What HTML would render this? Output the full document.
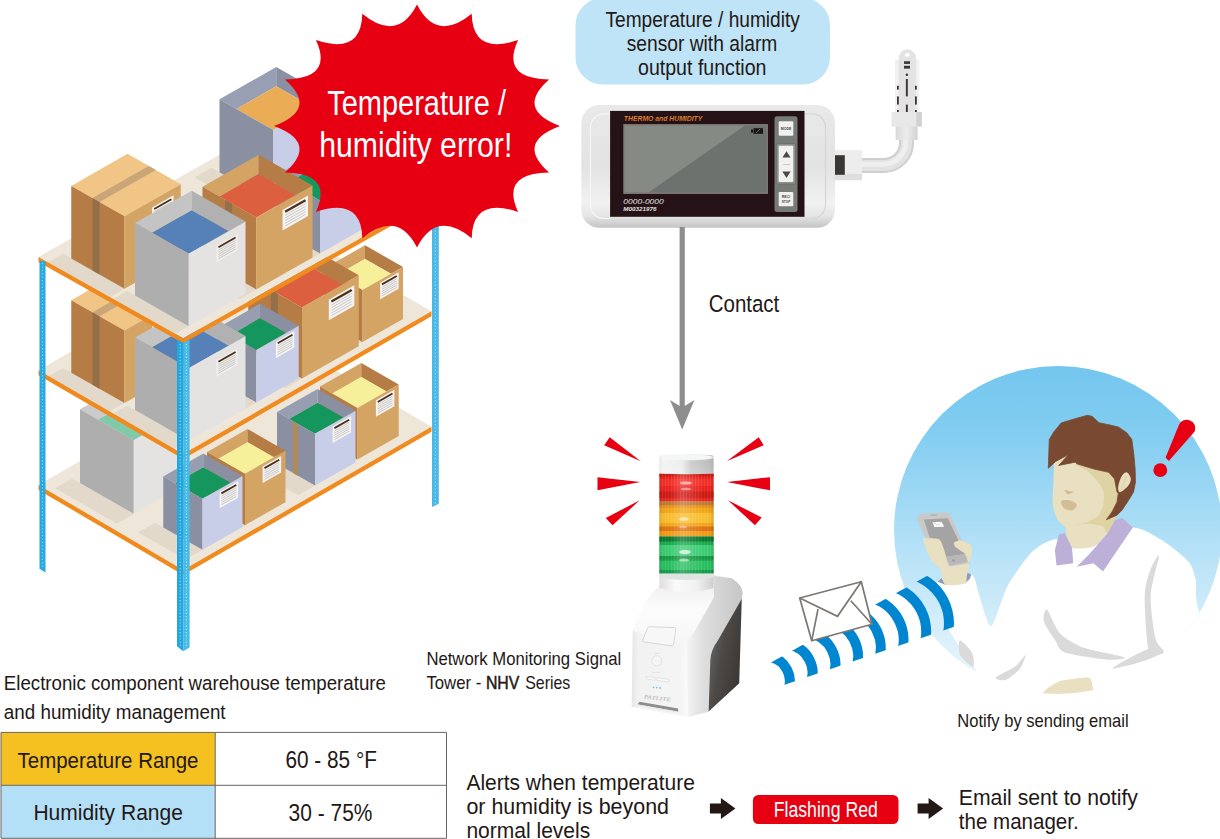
<!DOCTYPE html>
<html lang="en"><head><meta charset="utf-8"><title>Temperature / humidity monitoring</title>
<style>
html,body{margin:0;padding:0;background:#fff;}
body{width:1220px;height:839px;overflow:hidden;}
svg{display:block;font-family:"Liberation Sans",sans-serif;}
</style></head><body>
<svg width="1220" height="839" viewBox="0 0 1220 839">
<g id="shelf"><polygon points="432.00,150.00 438.80,150.00 438.80,503.70 432.00,507.00" fill="#4bb8e6" /><line x1="435.4" y1="152.0" x2="435.4" y2="506.0" stroke="#9adcf5" stroke-width="1.2" stroke-dasharray="1.2 2.2"/><polygon points="38.50,484.92 286.80,341.65 431.50,426.73 183.20,570.00" fill="#efe6da" /><polygon points="357.50,459.50 340.50,469.19 295.00,443.25 312.00,433.56 320.00,438.12" fill="#e2d9cb" /><polygon points="315.00,485.50 298.00,495.19 252.00,468.97 269.00,459.28 277.00,463.84" fill="#e2d9cb" /><polygon points="133.75,513.75 116.75,523.44 55.00,488.24 72.00,478.55 80.00,483.11" fill="#e2d9cb" /><polygon points="245.00,525.25 228.00,534.94 182.00,508.72 199.00,499.03 207.00,503.59" fill="#e2d9cb" /><polygon points="202.50,549.75 185.50,559.44 138.25,532.51 155.25,522.82 163.25,527.38" fill="#e2d9cb" /><polygon points="38.50,484.92 183.20,570.00 183.20,575.00 38.50,489.92" fill="#f08a1c" /><polygon points="183.20,570.00 431.50,426.73 431.50,431.73 183.20,575.00" fill="#ef8b1f" /><polygon points="320.00,386.62 361.25,363.11 361.25,377.11 332.28,393.62" fill="#d4a465" /><polygon points="361.25,363.11 398.75,384.49 386.47,391.49 361.25,377.11" fill="#b57c45" /><polygon points="361.25,377.11 386.47,391.49 357.50,408.00 332.28,393.62" fill="#f7f09a" /><polygon points="320.00,386.62 357.50,408.00 357.50,459.50 320.00,438.12" fill="#b57c45" /><polygon points="357.50,408.00 398.75,384.49 398.75,435.99 357.50,459.50" fill="#d4a465" /><polygon points="375.85,400.34 394.35,389.80 394.35,406.30 375.85,416.84" fill="#f4f3f1" /><line x1="377.70" y1="401.93" x2="392.50" y2="393.49" stroke="#4a2f1a" stroke-width="1.815"/><line x1="377.70" y1="404.73" x2="392.50" y2="396.30" stroke="#b9b6b3" stroke-width="0.7"/><line x1="377.70" y1="406.88" x2="392.50" y2="398.44" stroke="#b9b6b3" stroke-width="0.7"/><line x1="377.70" y1="409.02" x2="392.50" y2="400.59" stroke="#b9b6b3" stroke-width="0.7"/><line x1="377.70" y1="411.17" x2="392.50" y2="402.73" stroke="#b9b6b3" stroke-width="0.7"/><line x1="377.70" y1="413.31" x2="392.50" y2="404.88" stroke="#b9b6b3" stroke-width="0.7"/><polygon points="277.00,412.09 317.50,389.00 317.50,402.75 289.06,418.97" fill="#989eb2" /><polygon points="317.50,389.00 355.50,410.67 343.44,417.54 317.50,402.75" fill="#8a90a2" /><polygon points="317.50,402.75 343.44,417.54 315.00,433.75 289.06,418.97" fill="#14965c" /><polygon points="277.00,412.09 315.00,433.75 315.00,485.50 277.00,463.84" fill="#8a90a2" /><polygon points="315.00,433.75 355.50,410.67 355.50,462.42 315.00,485.50" fill="#c8cde8" /><polygon points="292.96,421.19 297.90,424.00 297.90,475.75 292.96,472.94" fill="#b08a58" /><polygon points="332.60,426.52 351.10,415.97 351.10,432.47 332.60,443.02" fill="#f4f3f1" /><line x1="334.45" y1="428.10" x2="349.25" y2="419.67" stroke="#4a2f1a" stroke-width="1.815"/><line x1="334.45" y1="430.91" x2="349.25" y2="422.47" stroke="#b9b6b3" stroke-width="0.7"/><line x1="334.45" y1="433.05" x2="349.25" y2="424.62" stroke="#b9b6b3" stroke-width="0.7"/><line x1="334.45" y1="435.20" x2="349.25" y2="426.76" stroke="#b9b6b3" stroke-width="0.7"/><line x1="334.45" y1="437.34" x2="349.25" y2="428.91" stroke="#b9b6b3" stroke-width="0.7"/><line x1="334.45" y1="439.49" x2="349.25" y2="431.05" stroke="#b9b6b3" stroke-width="0.7"/><polygon points="80.00,409.36 136.00,377.44 189.75,408.08 133.75,440.00" fill="#cbcbcb" /><polygon points="80.00,409.36 133.75,440.00 133.75,513.75 80.00,483.11" fill="#aeaeae" /><polygon points="133.75,440.00 189.75,408.08 189.75,481.83 133.75,513.75" fill="#e4e3e1" /><polygon points="98.28,419.78 154.28,387.86 189.75,408.08 133.75,440.00" fill="#80c9a9" /><polygon points="207.00,452.09 247.50,429.00 247.50,442.25 218.62,458.72" fill="#d4a465" /><polygon points="247.50,429.00 285.50,450.67 273.88,457.29 247.50,442.25" fill="#b57c45" /><polygon points="247.50,442.25 273.88,457.29 245.00,473.75 218.62,458.72" fill="#f7f09a" /><polygon points="207.00,452.09 245.00,473.75 245.00,525.25 207.00,503.59" fill="#b57c45" /><polygon points="245.00,473.75 285.50,450.67 285.50,502.17 245.00,525.25" fill="#d4a465" /><polygon points="262.60,466.52 281.10,455.97 281.10,472.47 262.60,483.02" fill="#f4f3f1" /><line x1="264.45" y1="468.10" x2="279.25" y2="459.67" stroke="#4a2f1a" stroke-width="1.815"/><line x1="264.45" y1="470.91" x2="279.25" y2="462.47" stroke="#b9b6b3" stroke-width="0.7"/><line x1="264.45" y1="473.05" x2="279.25" y2="464.62" stroke="#b9b6b3" stroke-width="0.7"/><line x1="264.45" y1="475.20" x2="279.25" y2="466.76" stroke="#b9b6b3" stroke-width="0.7"/><line x1="264.45" y1="477.34" x2="279.25" y2="468.91" stroke="#b9b6b3" stroke-width="0.7"/><line x1="264.45" y1="479.49" x2="279.25" y2="471.05" stroke="#b9b6b3" stroke-width="0.7"/><polygon points="163.25,476.38 203.25,453.58 203.25,467.33 175.31,483.25" fill="#989eb2" /><polygon points="203.25,453.58 242.50,475.95 230.44,482.82 203.25,467.33" fill="#8a90a2" /><polygon points="203.25,467.33 230.44,482.82 202.50,498.75 175.31,483.25" fill="#14965c" /><polygon points="163.25,476.38 202.50,498.75 202.50,549.75 163.25,527.38" fill="#8a90a2" /><polygon points="202.50,498.75 242.50,475.95 242.50,526.95 202.50,549.75" fill="#c8cde8" /><polygon points="219.60,491.80 238.10,481.26 238.10,497.76 219.60,508.30" fill="#f4f3f1" /><line x1="221.45" y1="493.39" x2="236.25" y2="484.95" stroke="#4a2f1a" stroke-width="1.815"/><line x1="221.45" y1="496.19" x2="236.25" y2="487.76" stroke="#b9b6b3" stroke-width="0.7"/><line x1="221.45" y1="498.34" x2="236.25" y2="489.90" stroke="#b9b6b3" stroke-width="0.7"/><line x1="221.45" y1="500.48" x2="236.25" y2="492.05" stroke="#b9b6b3" stroke-width="0.7"/><line x1="221.45" y1="502.63" x2="236.25" y2="494.19" stroke="#b9b6b3" stroke-width="0.7"/><line x1="221.45" y1="504.77" x2="236.25" y2="496.34" stroke="#b9b6b3" stroke-width="0.7"/><polygon points="38.50,370.36 286.80,227.59 431.50,311.23 183.20,454.00" fill="#efe6da" /><polygon points="362.50,342.00 345.50,351.69 299.50,325.47 316.50,315.78 324.50,320.34" fill="#e2d9cb" /><polygon points="302.00,378.50 285.00,388.19 223.25,352.99 240.25,343.30 248.25,347.86" fill="#e2d9cb" /><polygon points="256.25,402.50 239.25,412.19 192.50,385.54 209.50,375.85 217.50,380.41" fill="#e2d9cb" /><polygon points="124.50,403.00 107.50,412.69 46.25,377.78 63.25,368.09 71.25,372.65" fill="#e2d9cb" /><polygon points="188.75,440.75 171.75,450.44 110.00,415.24 127.00,405.55 135.00,410.11" fill="#e2d9cb" /><polygon points="38.50,370.36 183.20,454.00 183.20,459.00 38.50,375.36" fill="#f08a1c" /><polygon points="183.20,454.00 431.50,311.23 431.50,316.23 183.20,459.00" fill="#ef8b1f" /><polygon points="324.50,268.34 365.00,245.25 365.00,259.00 336.56,275.22" fill="#d4a465" /><polygon points="365.00,245.25 403.00,266.92 390.94,273.79 365.00,259.00" fill="#b57c45" /><polygon points="365.00,259.00 390.94,273.79 362.50,290.00 336.56,275.22" fill="#f7f09a" /><polygon points="324.50,268.34 362.50,290.00 362.50,342.00 324.50,320.34" fill="#b57c45" /><polygon points="362.50,290.00 403.00,266.92 403.00,318.92 362.50,342.00" fill="#d4a465" /><polygon points="380.10,282.77 398.60,272.22 398.60,288.72 380.10,299.27" fill="#f4f3f1" /><line x1="381.95" y1="284.35" x2="396.75" y2="275.92" stroke="#4a2f1a" stroke-width="1.815"/><line x1="381.95" y1="287.16" x2="396.75" y2="278.72" stroke="#b9b6b3" stroke-width="0.7"/><line x1="381.95" y1="289.30" x2="396.75" y2="280.87" stroke="#b9b6b3" stroke-width="0.7"/><line x1="381.95" y1="291.45" x2="396.75" y2="283.01" stroke="#b9b6b3" stroke-width="0.7"/><line x1="381.95" y1="293.59" x2="396.75" y2="285.16" stroke="#b9b6b3" stroke-width="0.7"/><line x1="381.95" y1="295.74" x2="396.75" y2="287.30" stroke="#b9b6b3" stroke-width="0.7"/><polygon points="248.25,276.86 305.00,244.52 305.00,263.51 264.92,286.36" fill="#d4a465" /><polygon points="305.00,244.52 358.75,275.15 342.08,284.65 305.00,263.51" fill="#b57c45" /><polygon points="305.00,263.51 342.08,284.65 302.00,307.50 264.92,286.36" fill="#dc6040" /><polygon points="248.25,276.86 302.00,307.50 302.00,378.50 248.25,347.86" fill="#b57c45" /><polygon points="302.00,307.50 358.75,275.15 358.75,346.15 302.00,378.50" fill="#d4a465" /><polygon points="270.82,289.73 277.81,293.71 277.81,364.71 270.82,360.73" fill="#94704a" /><polygon points="328.80,299.72 354.30,285.19 354.30,305.69 328.80,320.22" fill="#f4f3f1" /><line x1="331.35" y1="301.55" x2="351.75" y2="289.92" stroke="#4a2f1a" stroke-width="2.255"/><line x1="331.35" y1="305.04" x2="351.75" y2="293.41" stroke="#b9b6b3" stroke-width="0.7"/><line x1="331.35" y1="307.70" x2="351.75" y2="296.07" stroke="#b9b6b3" stroke-width="0.7"/><line x1="331.35" y1="310.37" x2="351.75" y2="298.74" stroke="#b9b6b3" stroke-width="0.7"/><line x1="331.35" y1="313.03" x2="351.75" y2="301.40" stroke="#b9b6b3" stroke-width="0.7"/><line x1="331.35" y1="315.70" x2="351.75" y2="304.07" stroke="#b9b6b3" stroke-width="0.7"/><polygon points="217.50,327.91 260.00,303.69 260.00,318.19 230.22,335.16" fill="#989eb2" /><polygon points="260.00,303.69 298.75,325.77 286.03,333.02 260.00,318.19" fill="#8a90a2" /><polygon points="260.00,318.19 286.03,333.02 256.25,350.00 230.22,335.16" fill="#14965c" /><polygon points="217.50,327.91 256.25,350.00 256.25,402.50 217.50,380.41" fill="#8a90a2" /><polygon points="256.25,350.00 298.75,325.77 298.75,378.27 256.25,402.50" fill="#c8cde8" /><polygon points="275.85,341.63 294.35,331.08 294.35,347.58 275.85,358.13" fill="#f4f3f1" /><line x1="277.70" y1="343.21" x2="292.50" y2="334.78" stroke="#4a2f1a" stroke-width="1.815"/><line x1="277.70" y1="346.02" x2="292.50" y2="337.58" stroke="#b9b6b3" stroke-width="0.7"/><line x1="277.70" y1="348.16" x2="292.50" y2="339.73" stroke="#b9b6b3" stroke-width="0.7"/><line x1="277.70" y1="350.31" x2="292.50" y2="341.87" stroke="#b9b6b3" stroke-width="0.7"/><line x1="277.70" y1="352.45" x2="292.50" y2="344.02" stroke="#b9b6b3" stroke-width="0.7"/><line x1="277.70" y1="354.60" x2="292.50" y2="346.16" stroke="#b9b6b3" stroke-width="0.7"/><polygon points="71.25,300.15 127.50,268.09 180.75,298.44 124.50,330.50" fill="#f0c586" /><polygon points="71.25,300.15 124.50,330.50 124.50,403.00 71.25,372.65" fill="#b57c45" /><polygon points="124.50,330.50 180.75,298.44 180.75,370.94 124.50,403.00" fill="#d4a465" /><polygon points="92.55,312.29 148.80,280.23 155.72,284.17 99.47,316.23" fill="#c9a577" /><polygon points="92.55,312.29 99.47,316.23 99.47,388.73 92.55,384.79" fill="#94704a" /><polygon points="152.05,321.80 173.55,309.54 173.55,326.14 152.05,338.40" fill="#f4f3f1" /><line x1="154.20" y1="323.23" x2="171.40" y2="313.42" stroke="#4a2f1a" stroke-width="1.826"/><line x1="154.20" y1="326.05" x2="171.40" y2="316.25" stroke="#b9b6b3" stroke-width="0.7"/><line x1="154.20" y1="328.21" x2="171.40" y2="318.40" stroke="#b9b6b3" stroke-width="0.7"/><line x1="154.20" y1="330.36" x2="171.40" y2="320.56" stroke="#b9b6b3" stroke-width="0.7"/><line x1="154.20" y1="332.52" x2="171.40" y2="322.72" stroke="#b9b6b3" stroke-width="0.7"/><line x1="154.20" y1="334.68" x2="171.40" y2="324.88" stroke="#b9b6b3" stroke-width="0.7"/><polygon points="135.00,337.61 191.75,305.26 191.75,324.76 152.11,347.36" fill="#c4c4c4" /><polygon points="191.75,305.26 245.50,335.90 228.39,345.65 191.75,324.76" fill="#b1b1b1" /><polygon points="191.75,324.76 228.39,345.65 188.75,368.25 152.11,347.36" fill="#5580b8" /><polygon points="135.00,337.61 188.75,368.25 188.75,440.75 135.00,410.11" fill="#aeaeae" /><polygon points="188.75,368.25 245.50,335.90 245.50,408.40 188.75,440.75" fill="#e4e3e1" /><polygon points="216.30,360.35 237.70,348.15 237.70,364.75 216.30,376.95" fill="#efeeec" /><line x1="218.44" y1="361.78" x2="235.56" y2="352.02" stroke="#4a2f1a" stroke-width="1.826"/><line x1="218.44" y1="364.60" x2="235.56" y2="354.85" stroke="#b9b6b3" stroke-width="0.7"/><line x1="218.44" y1="366.76" x2="235.56" y2="357.00" stroke="#b9b6b3" stroke-width="0.7"/><line x1="218.44" y1="368.92" x2="235.56" y2="359.16" stroke="#b9b6b3" stroke-width="0.7"/><line x1="218.44" y1="371.08" x2="235.56" y2="361.32" stroke="#b9b6b3" stroke-width="0.7"/><line x1="218.44" y1="373.24" x2="235.56" y2="363.48" stroke="#b9b6b3" stroke-width="0.7"/><polygon points="38.50,256.88 286.80,116.84 431.50,198.16 183.20,338.20" fill="#efe6da" /><polygon points="273.25,203.00 256.25,212.69 194.50,177.49 211.50,167.80 219.50,172.36" fill="#e2d9cb" /><polygon points="320.00,253.50 303.00,263.19 251.00,233.55 268.00,223.86 276.00,228.42" fill="#e2d9cb" /><polygon points="124.50,288.75 107.50,298.44 46.25,263.53 63.25,253.84 71.25,258.40" fill="#e2d9cb" /><polygon points="256.25,289.50 239.25,299.19 177.50,263.99 194.50,254.30 202.50,258.86" fill="#e2d9cb" /><polygon points="188.75,326.25 171.75,335.94 110.00,300.74 127.00,291.05 135.00,295.61" fill="#e2d9cb" /><polygon points="38.50,256.88 183.20,338.20 183.20,343.20 38.50,261.88" fill="#f08a1c" /><polygon points="183.20,338.20 431.50,198.16 431.50,203.16 183.20,343.20" fill="#ef8b1f" /><polygon points="219.50,99.36 276.25,67.02 276.25,86.32 236.43,109.01" fill="#989eb4" /><polygon points="276.25,67.02 330.00,97.65 313.07,107.30 276.25,86.32" fill="#8a90a2" /><polygon points="276.25,86.32 313.07,107.30 273.25,130.00 236.43,109.01" fill="#eaad55" /><polygon points="219.50,99.36 273.25,130.00 273.25,203.00 219.50,172.36" fill="#8a90a2" /><polygon points="273.25,130.00 330.00,97.65 330.00,170.65 273.25,203.00" fill="#c8cde8" /><polygon points="276.00,175.42 318.50,151.19 318.50,165.19 288.28,182.42" fill="#989eb2" /><polygon points="318.50,151.19 362.50,176.28 350.22,183.28 318.50,165.19" fill="#8a90a2" /><polygon points="318.50,165.19 350.22,183.28 320.00,200.50 288.28,182.42" fill="#14965c" /><polygon points="276.00,175.42 320.00,200.50 320.00,253.50 276.00,228.42" fill="#8a90a2" /><polygon points="320.00,200.50 362.50,176.28 362.50,229.28 320.00,253.50" fill="#c8cde8" /><polygon points="71.25,185.90 127.50,153.84 180.75,184.19 124.50,216.25" fill="#f0c586" /><polygon points="71.25,185.90 124.50,216.25 124.50,288.75 71.25,258.40" fill="#b57c45" /><polygon points="124.50,216.25 180.75,184.19 180.75,256.69 124.50,288.75" fill="#d4a465" /><polygon points="92.55,198.04 148.80,165.98 155.72,169.92 99.47,201.98" fill="#c9a577" /><polygon points="92.55,198.04 99.47,201.98 99.47,274.48 92.55,270.54" fill="#94704a" /><polygon points="152.05,207.55 173.55,195.29 173.55,211.89 152.05,224.15" fill="#f4f3f1" /><line x1="154.20" y1="208.98" x2="171.40" y2="199.17" stroke="#4a2f1a" stroke-width="1.826"/><line x1="154.20" y1="211.80" x2="171.40" y2="202.00" stroke="#b9b6b3" stroke-width="0.7"/><line x1="154.20" y1="213.96" x2="171.40" y2="204.15" stroke="#b9b6b3" stroke-width="0.7"/><line x1="154.20" y1="216.12" x2="171.40" y2="206.31" stroke="#b9b6b3" stroke-width="0.7"/><line x1="154.20" y1="218.27" x2="171.40" y2="208.47" stroke="#b9b6b3" stroke-width="0.7"/><line x1="154.20" y1="220.43" x2="171.40" y2="210.63" stroke="#b9b6b3" stroke-width="0.7"/><polygon points="202.50,186.86 258.75,154.80 258.75,174.05 219.39,196.49" fill="#d4a465" /><polygon points="258.75,154.80 312.50,185.44 295.61,195.06 258.75,174.05" fill="#b57c45" /><polygon points="258.75,174.05 295.61,195.06 256.25,217.50 219.39,196.49" fill="#dc6040" /><polygon points="202.50,186.86 256.25,217.50 256.25,289.50 202.50,258.86" fill="#b57c45" /><polygon points="256.25,217.50 312.50,185.44 312.50,257.44 256.25,289.50" fill="#d4a465" /><polygon points="225.07,199.73 232.06,203.71 232.06,275.71 225.07,271.73" fill="#94704a" /><polygon points="282.55,210.01 308.05,195.47 308.05,215.97 282.55,230.51" fill="#f4f3f1" /><line x1="285.10" y1="211.84" x2="305.50" y2="200.21" stroke="#4a2f1a" stroke-width="2.255"/><line x1="285.10" y1="215.32" x2="305.50" y2="203.69" stroke="#b9b6b3" stroke-width="0.7"/><line x1="285.10" y1="217.99" x2="305.50" y2="206.36" stroke="#b9b6b3" stroke-width="0.7"/><line x1="285.10" y1="220.65" x2="305.50" y2="209.02" stroke="#b9b6b3" stroke-width="0.7"/><line x1="285.10" y1="223.32" x2="305.50" y2="211.69" stroke="#b9b6b3" stroke-width="0.7"/><line x1="285.10" y1="225.98" x2="305.50" y2="214.35" stroke="#b9b6b3" stroke-width="0.7"/><polygon points="135.00,223.11 191.75,190.77 191.75,210.27 152.11,232.86" fill="#c4c4c4" /><polygon points="191.75,190.77 245.50,221.40 228.39,231.15 191.75,210.27" fill="#b1b1b1" /><polygon points="191.75,210.27 228.39,231.15 188.75,253.75 152.11,232.86" fill="#5580b8" /><polygon points="135.00,223.11 188.75,253.75 188.75,326.25 135.00,295.61" fill="#aeaeae" /><polygon points="188.75,253.75 245.50,221.40 245.50,293.90 188.75,326.25" fill="#e4e3e1" /><polygon points="216.30,245.85 237.70,233.65 237.70,250.25 216.30,262.45" fill="#efeeec" /><line x1="218.44" y1="247.28" x2="235.56" y2="237.52" stroke="#4a2f1a" stroke-width="1.826"/><line x1="218.44" y1="250.10" x2="235.56" y2="240.35" stroke="#b9b6b3" stroke-width="0.7"/><line x1="218.44" y1="252.26" x2="235.56" y2="242.50" stroke="#b9b6b3" stroke-width="0.7"/><line x1="218.44" y1="254.42" x2="235.56" y2="244.66" stroke="#b9b6b3" stroke-width="0.7"/><line x1="218.44" y1="256.58" x2="235.56" y2="246.82" stroke="#b9b6b3" stroke-width="0.7"/><line x1="218.44" y1="258.74" x2="235.56" y2="248.98" stroke="#b9b6b3" stroke-width="0.7"/><polygon points="39.50,261.00 45.50,261.00 45.50,572.50 39.50,568.80" fill="#27a8e0" /><line x1="42.5" y1="263.0" x2="42.5" y2="567.8" stroke="#8fd6f3" stroke-width="1.2" stroke-dasharray="1.2 2.2"/><polygon points="177.00,339.50 183.20,343.00 183.20,651.30 177.00,646.30" fill="#22a6de" /><polygon points="183.20,343.00 189.60,339.50 189.60,647.50 183.20,651.30" fill="#48bae8" /><line x1="180.2" y1="344" x2="180.2" y2="647" stroke="#9adcf5" stroke-width="1.1" stroke-dasharray="1.2 2"/><line x1="186.4" y1="344" x2="186.4" y2="647" stroke="#b5e6f8" stroke-width="1.1" stroke-dasharray="1.2 2"/></g><path d="M417.0,4.5Q436.5,42.6 471.7,13.7Q472.6,55.3 518.1,40.1Q500.2,78.7 549.1,79.5Q515.2,109.4 560.0,126.0Q515.2,142.6 549.1,172.5Q500.2,173.3 518.1,211.9Q472.6,196.7 471.7,238.3Q436.5,209.4 417.0,247.5Q397.5,209.4 362.3,238.3Q361.4,196.7 315.9,211.9Q333.8,173.3 284.9,172.5Q318.8,142.6 274.0,126.0Q318.8,109.4 284.9,79.5Q333.8,78.7 315.9,40.1Q361.4,55.3 362.3,13.7Q397.5,42.6 417.0,4.5Z" fill="#e60012"/><text x="327.2" y="115.0" font-size="34.5" fill="#fff" textLength="178.8" lengthAdjust="spacingAndGlyphs" >Temperature /</text><text x="319.2" y="157.0" font-size="34.5" fill="#fff" textLength="193.1" lengthAdjust="spacingAndGlyphs" >humidity error!</text><g id="sensor"><defs>
<linearGradient id="sbody" x1="0" y1="0" x2="0" y2="1">
<stop offset="0" stop-color="#e9e9e9"/><stop offset="0.5" stop-color="#e3e3e3"/><stop offset="0.8" stop-color="#f1f1f1"/><stop offset="0.9" stop-color="#e6e6e6"/><stop offset="1" stop-color="#c4c4c4"/>
</linearGradient>
<linearGradient id="tubeg" x1="0" y1="0" x2="0" y2="1">
<stop offset="0" stop-color="#f4f4f4"/><stop offset="1" stop-color="#d6d6d6"/>
</linearGradient>
<linearGradient id="probeg" x1="0" y1="0" x2="1" y2="0">
<stop offset="0" stop-color="#d9d9d9"/><stop offset="0.5" stop-color="#ececec"/><stop offset="1" stop-color="#d2d2d2"/>
</linearGradient>
<linearGradient id="orangetxt" x1="0" y1="0" x2="0" y2="1">
<stop offset="0" stop-color="#f0a040"/><stop offset="1" stop-color="#c4541c"/>
</linearGradient>
</defs><path d="M862,165.4H884A22.5,22.5 0 0 0 906.5,142.9V139" fill="none" stroke="#cfcfcf" stroke-width="15"/><path d="M862,165.4H884A22.5,22.5 0 0 0 906.5,142.9V139" fill="none" stroke="#e2e2e2" stroke-width="11"/><path d="M862,165.4H884A22.5,22.5 0 0 0 906.5,142.9V139" fill="none" stroke="#efefef" stroke-width="5" transform="translate(-0.8,-1.2)"/><rect x="895.6" y="126" width="22" height="14" fill="url(#probeg)"/><path d="M895,112V59.5H919.3V112Z" fill="#f1f1f1"/><path d="M898.7,112V58A8.6,8.6 0 0 1 916,58V112Z" fill="#e3e3e3"/><ellipse cx="907.3" cy="54.8" rx="2.6" ry="1.9" fill="#fff"/><rect x="904" y="61.3" width="6" height="2.6" fill="#3a3432"/><rect x="904" y="65.8" width="6" height="2.8" fill="#3a3432"/><circle cx="906.9" cy="74.7" r="1.2" fill="#3a3432"/><rect x="905.9" y="79" width="1.9" height="17.4" fill="#3a3432"/><rect x="905.9" y="104.6" width="1.9" height="7.4" fill="#3a3432"/><rect x="897" y="85.8" width="1.8" height="3.8" fill="#3a3432"/><rect x="897" y="96.4" width="1.8" height="8.2" fill="#3a3432"/><rect x="897" y="110" width="1.8" height="2" fill="#3a3432"/><rect x="915" y="85.8" width="1.8" height="3.8" fill="#3a3432"/><rect x="915" y="96.4" width="1.8" height="8.2" fill="#3a3432"/><rect x="915" y="110" width="1.8" height="2" fill="#3a3432"/><rect x="891.5" y="112" width="30.3" height="14.5" fill="#e8e8e8"/><rect x="916.3" y="112" width="5.5" height="14.5" fill="#d2d2d2"/><rect x="834" y="150.2" width="28" height="30" fill="#ededed"/><rect x="834" y="174" width="28" height="6.2" fill="#dedede"/><rect x="835" y="155.2" width="9.8" height="19.6" fill="#3a3634"/><rect x="581.3" y="105" width="253.7" height="122.8" rx="18" fill="url(#sbody)"/><path d="M610,113.8H604A13.5,13.5 0 0 0 590.5,127.3V205A13.5,13.5 0 0 0 604,218.5H610" fill="none" stroke="#f6f6f6" stroke-width="1.2"/><path d="M805,113.8H812A13.5,13.5 0 0 1 825.5,127.3V205A13.5,13.5 0 0 1 812,218.5H805" fill="none" stroke="#d6d6d6" stroke-width="1.2"/><rect x="610.1" y="110.9" width="194.4" height="105.9" fill="#241216"/><rect x="623.3" y="124.1" width="144.6" height="69.8" fill="#857d78"/><rect x="624.6" y="125.4" width="142" height="67.2" fill="#6c726d"/><polygon points="624.6,125.4 745,125.4 648.5,192.6 624.6,192.6" fill="#858a84"/><rect x="751" y="129.5" width="2" height="3" fill="#1b1514"/><rect x="753.5" y="128.2" width="9.5" height="5.6" fill="#1b1514"/><path d="M756,133L760,129" stroke="#6c726d" stroke-width="0.8"/><text x="623.8" y="121.2" font-size="7.2" fill="url(#orangetxt)" textLength="78.5" lengthAdjust="spacingAndGlyphs" font-weight="bold" font-style="italic" >THERMO and HUMIDITY</text><text x="623.3" y="203.8" font-size="6.6" fill="#e6e4e3" textLength="40.4" lengthAdjust="spacingAndGlyphs" font-style="italic" >0000-0000</text><text x="623.3" y="210.7" font-size="5.5" fill="#e3e1e0" textLength="33.2" lengthAdjust="spacingAndGlyphs" font-weight="bold" font-style="italic" >M00321976</text><rect x="774.5" y="116.2" width="23" height="95.8" rx="2.5" fill="#777b76"/><rect x="778.7" y="121.2" width="14.6" height="14.6" rx="1" fill="#f1f1ef"/><text x="786.0" y="130.2" font-size="3.8" fill="#444" textLength="10.5" lengthAdjust="spacingAndGlyphs" font-weight="bold" text-anchor="middle" >MODE</text><rect x="776.4" y="143.6" width="19.2" height="40.4" rx="1.5" fill="#8d918c" stroke="#5e625e" stroke-width="0.6"/><rect x="778.7" y="145.8" width="14.6" height="36.2" rx="1" fill="#f1f1ef"/><polygon points="786.5,151.3 790.6,157.5 782.4,157.5" fill="#4a4a48"/><polygon points="786.5,178 790.6,171.6 782.4,171.6" fill="#4a4a48"/><line x1="783" y1="164.5" x2="790" y2="164.5" stroke="#b5b5b2" stroke-width="0.6"/><rect x="778.7" y="192" width="14.6" height="14.3" rx="1" fill="#f1f1ef"/><text x="786.0" y="198.2" font-size="3.4" fill="#444" textLength="8.5" lengthAdjust="spacingAndGlyphs" font-weight="bold" text-anchor="middle" >REC/</text><text x="786.0" y="202.9" font-size="3.4" fill="#444" textLength="8.5" lengthAdjust="spacingAndGlyphs" font-weight="bold" text-anchor="middle" >STOP</text></g><rect x="575.5" y="-2" width="254.5" height="86.5" rx="27" fill="#bfe4f7"/><text x="605.5" y="27.0" font-size="22.9" fill="#231815" textLength="194.3" lengthAdjust="spacingAndGlyphs" >Temperature / humidity</text><text x="626.7" y="50.8" font-size="22.9" fill="#231815" textLength="150.6" lengthAdjust="spacingAndGlyphs" >sensor with alarm</text><text x="638.0" y="75.0" font-size="22.9" fill="#231815" textLength="128.5" lengthAdjust="spacingAndGlyphs" >output function</text><text x="708.7" y="311.8" font-size="24.3" fill="#231815" textLength="70.6" lengthAdjust="spacingAndGlyphs" >Contact</text><text x="426.4" y="665.2" font-size="17.9" fill="#231815" textLength="194.8" lengthAdjust="spacingAndGlyphs" >Network Monitoring Signal</text><text x="426.4" y="689.1" font-size="17.9" fill="#231815" textLength="55.0" lengthAdjust="spacingAndGlyphs" >Tower -</text><text x="485.9" y="689.1" font-size="17.9" fill="#231815" textLength="33.4" lengthAdjust="spacingAndGlyphs" stroke="#231815" stroke-width="0.5">NHV</text><text x="525.2" y="689.1" font-size="17.9" fill="#231815" textLength="45.1" lengthAdjust="spacingAndGlyphs" >Series</text><text x="957.2" y="726.6" font-size="17.9" fill="#231815" textLength="171.4" lengthAdjust="spacingAndGlyphs" >Notify by sending email</text><text x="3.8" y="689.9" font-size="20.5" fill="#231815" textLength="382.1" lengthAdjust="spacingAndGlyphs" >Electronic component warehouse temperature</text><text x="3.8" y="718.9" font-size="20.5" fill="#231815" textLength="221.8" lengthAdjust="spacingAndGlyphs" >and humidity management</text><rect x="1" y="732.4" width="214.2" height="52.9" fill="#f5c120"/><rect x="1" y="785.3" width="214.2" height="53" fill="#b4e0f7"/><path d="M1,732.4H446.5V838.3H1ZM1,785.3H446.5M215.2,732.4V838.3" fill="none" stroke="#6b6562" stroke-width="1"/><text x="17.5" y="767.7" font-size="22.7" fill="#231815" textLength="181.0" lengthAdjust="spacingAndGlyphs" >Temperature Range</text><text x="33.4" y="819.5" font-size="22.7" fill="#231815" textLength="149.5" lengthAdjust="spacingAndGlyphs" >Humidity Range</text><text x="285.5" y="767.7" font-size="23.7" fill="#231815" textLength="91.4" lengthAdjust="spacingAndGlyphs" >60 - 85 °F</text><text x="288.6" y="820.6" font-size="23.7" fill="#231815" textLength="83.8" lengthAdjust="spacingAndGlyphs" >30 - 75%</text><text x="466.4" y="790.1" font-size="21.4" fill="#231815" textLength="228.5" lengthAdjust="spacingAndGlyphs" >Alerts when temperature</text><text x="466.4" y="814.0" font-size="21.4" fill="#231815" textLength="202.6" lengthAdjust="spacingAndGlyphs" >or humidity is beyond</text><text x="466.4" y="837.6" font-size="21.4" fill="#231815" textLength="123.8" lengthAdjust="spacingAndGlyphs" >normal levels</text><path d="M709.9,803.6H720.9V798.0L735.4,808.5L720.9,819.0V813.4H709.9Z" fill="#231815"/><path d="M917.6,803.6H928.6V798.0L943.1,808.5L928.6,819.0V813.4H917.6Z" fill="#231815"/><rect x="752.9" y="794.9" width="145.6" height="29.2" rx="5.5" fill="#e60012"/><text x="773.7" y="817.3" font-size="22" fill="#fff" textLength="104.2" lengthAdjust="spacingAndGlyphs" >Flashing Red</text><text x="958.8" y="804.6" font-size="22" fill="#231815" textLength="179.1" lengthAdjust="spacingAndGlyphs" >Email sent to notify</text><text x="958.8" y="828.7" font-size="22" fill="#231815" textLength="119.9" lengthAdjust="spacingAndGlyphs" >the manager.</text><rect x="679.6" y="227" width="5.2" height="181" fill="#8e8e8e"/><path d="M682.2,429.5L670,400L682.2,407.5L694.5,400Z" fill="#8e8e8e"/><g id="person"><defs><linearGradient id="sky" x1="0" y1="0" x2="0" y2="1"><stop offset="0" stop-color="#74c6ee"/><stop offset="0.2" stop-color="#82cdf1"/><stop offset="0.55" stop-color="#b4e1f7"/><stop offset="0.85" stop-color="#ddf1fb"/><stop offset="1" stop-color="#edf8fd"/></linearGradient>
<clipPath id="cclip"><circle cx="1058" cy="530" r="164"/></clipPath></defs><circle cx="1058" cy="530" r="164" fill="url(#sky)"/><g clip-path="url(#cclip)"><path d="M937.3,581.6C939.9,575.3 966.4,573.5 971.2,574.8C976.0,576.1 976.2,587.0 978.5,593.0C980.8,599.0 987.6,627.1 991.0,626.3C994.4,625.5 1003.0,594.4 1007.7,585.8C1012.4,577.2 1025.9,557.8 1031.5,552.4C1037.1,547.0 1047.9,540.2 1055.3,539.3C1062.7,538.4 1086.0,546.4 1095.0,545.0C1104.0,543.6 1124.9,527.9 1132.8,527.4C1140.7,526.9 1156.1,536.5 1162.6,540.5C1169.1,544.5 1184.9,557.3 1188.8,562.0C1192.7,566.7 1194.8,575.4 1195.9,581.0C1197.0,586.6 1194.3,595.7 1198.3,609.6C1202.3,623.5 1253.1,689.5 1230.0,700.0C1206.9,710.5 1029.8,703.8 1000.0,700.0C970.2,696.2 980.6,675.8 974.6,667.5C968.6,659.2 953.2,639.0 948.8,629.0C944.4,619.0 934.7,587.9 937.3,581.6Z" fill="#fff"/><path d="M1159.0,556.0C1159.0,559.5 1151.1,584.4 1150.7,595.3C1150.2,606.3 1153.7,630.8 1155.4,638.2C1157.2,645.7 1163.4,649.1 1163.8,651.3C1164.1,653.6 1159.9,655.2 1157.8,654.9C1155.7,654.6 1150.0,656.9 1148.3,649.0C1146.5,641.0 1144.4,606.0 1144.7,595.3C1145.0,584.7 1148.8,574.4 1150.7,569.1C1152.6,563.9 1159.0,552.5 1159.0,556.0Z" fill="#dadada"/><path d="M1047.0,609.6C1049.1,611.2 1055.2,628.4 1060.1,633.5C1065.0,638.5 1075.3,644.6 1083.9,647.8C1092.5,650.9 1121.3,655.7 1124.4,657.3C1127.6,658.9 1115.7,660.3 1107.8,659.7C1099.8,659.0 1071.9,655.1 1064.9,652.5C1057.9,650.0 1058.1,644.7 1055.3,640.6C1052.5,636.5 1045.0,625.7 1043.9,621.5C1042.8,617.4 1044.8,608.0 1047.0,609.6Z" fill="#dadada"/><path d="M1112.5,668.0C1114.1,666.1 1142.2,650.7 1148.3,649.0C1154.3,647.2 1159.4,653.0 1157.8,654.9C1156.2,656.8 1142.4,661.5 1136.4,663.3C1130.3,665.0 1110.9,669.9 1112.5,668.0Z" fill="#dadada"/><path d="M960.0,640.6C961.6,640.3 970.2,649.0 971.9,652.5C973.7,656.0 974.7,666.5 973.1,666.8C971.5,667.1 961.7,658.4 960.0,654.9C958.3,651.4 958.4,640.9 960.0,640.6Z" fill="#dadada"/><path d="M995.7,677.6C997.0,675.8 1010.8,669.8 1014.8,666.8C1018.8,663.8 1024.9,654.6 1025.5,654.9C1026.2,655.2 1022.3,665.9 1019.6,669.2C1016.9,672.5 1008.5,678.8 1005.3,679.9C1002.1,681.0 994.5,679.3 995.7,677.6Z" fill="#dadada"/><path d="M1045.3,690.2C1047.0,688.5 1055.8,682.4 1060.1,681.1C1064.4,679.9 1085.4,677.0 1088.7,677.6C1092.0,678.1 1092.3,685.1 1092.7,687.1C1093.2,689.1 1098.4,696.7 1093.5,697.8C1088.5,698.9 1048.2,698.6 1043.4,697.8C1038.6,697.0 1043.7,691.8 1045.3,690.2Z" fill="#e8e0c1"/><path d="M1085.8,449.3C1080.2,448.3 1062.1,452.1 1057.8,454.3C1053.6,456.5 1054.6,462.1 1054.0,465.8C1053.5,469.5 1053.6,477.9 1053.4,482.2C1053.2,486.6 1052.6,495.2 1052.6,498.7C1052.6,502.2 1052.7,505.7 1053.4,508.6C1054.1,511.4 1056.5,517.8 1057.8,520.1C1059.2,522.4 1062.4,524.8 1063.6,525.8C1064.8,526.8 1066.5,527.4 1066.9,527.5C1067.2,527.5 1066.2,525.4 1066.1,526.2C1065.9,527.0 1065.3,530.5 1066.1,533.4C1066.8,536.2 1068.4,545.9 1072.0,547.7C1075.7,549.4 1088.7,548.4 1093.5,546.5C1098.2,544.6 1104.9,536.9 1107.8,533.4C1110.6,529.9 1113.5,524.7 1114.9,520.3C1116.3,515.8 1117.9,505.4 1118.0,500.0C1118.1,494.6 1118.4,485.1 1116.0,480.0C1113.6,474.9 1104.0,466.1 1100.0,462.0C1096.0,457.9 1091.4,450.4 1085.8,449.3Z" fill="#e8e0c1"/><path d="M1075.9,464.1C1074.5,465.5 1085.8,469.5 1089.1,472.4C1092.4,475.2 1098.6,482.5 1100.6,485.5C1102.6,488.6 1104.0,492.3 1104.2,495.4C1104.4,498.5 1103.2,505.7 1102.2,508.6C1101.3,511.4 1099.5,514.9 1097.3,516.8C1095.1,518.6 1089.5,521.2 1085.8,522.5C1082.1,523.9 1070.9,526.5 1069.3,527.0C1067.8,527.4 1071.8,526.2 1074.4,525.7C1077.0,525.3 1084.9,523.7 1088.7,523.8C1092.5,524.0 1100.5,525.4 1103.0,526.7C1105.5,528.0 1106.2,534.2 1107.8,533.4C1109.3,532.5 1113.5,524.7 1114.9,520.3C1116.3,515.8 1117.9,505.4 1118.0,500.0C1118.1,494.6 1118.4,485.1 1116.0,480.0C1113.6,474.9 1105.3,464.1 1100.0,462.0C1094.7,459.9 1077.4,462.8 1075.9,464.1Z" fill="#dfd3a4"/><polygon points="1063.59,489.64 1074.28,492.11 1067.70,494.57" fill="#d2bb97" /><path d="M1061.1,501.2C1061.9,499.8 1066.7,499.8 1069.3,500.3C1071.9,500.9 1076.2,502.8 1076.7,504.4C1077.3,506.1 1074.7,509.5 1072.6,510.2C1070.6,510.9 1066.3,510.1 1064.4,508.6C1062.5,507.0 1060.3,502.5 1061.1,501.2Z" fill="#d3bd97"/><polygon points="1058.90,534.56 1064.86,533.37 1072.01,547.66 1073.20,563.16 1056.52,565.54 1054.85,550.05" fill="#bcb0d8" /><polygon points="1122.06,517.87 1132.78,527.41 1102.99,571.50 1093.46,563.16 1076.78,566.73 1088.69,554.81 1107.76,533.37 1114.91,520.26" fill="#bcb0d8" /><polygon points="1048.29,468.26 1048.78,454.28 1049.28,439.47 1053.72,432.07 1061.12,423.03 1074.28,418.91 1087.43,415.30 1092.37,416.45 1098.95,422.70 1112.11,425.49 1118.68,427.14 1126.91,432.89 1131.84,439.47 1133.82,454.28 1135.13,469.08 1135.46,482.24 1133.49,492.11 1128.55,500.33 1121.97,510.20 1117.04,515.13 1106.35,519.74 1112.11,511.84 1117.04,501.97 1118.36,492.93 1117.04,492.11 1114.57,478.95 1108.82,472.37 1094.01,469.08 1076.74,463.82 1075.10,462.17 1058.65,465.46 1068.52,454.61 1055.36,461.68" fill="#794a31" stroke="#794a31" stroke-width="0.8" stroke-linejoin="round"/><path d="M1126.9,472.4C1128.3,472.6 1130.0,475.7 1130.5,477.3C1131.1,478.9 1130.9,480.5 1130.2,482.2C1129.5,484.0 1127.9,486.3 1126.1,488.0C1124.3,489.6 1120.8,492.5 1119.5,492.1C1118.2,491.7 1117.9,488.3 1118.4,485.5C1118.8,482.8 1120.5,477.9 1122.0,475.7C1123.4,473.5 1125.5,472.1 1126.9,472.4Z" fill="#e8e0c1"/><polygon points="1125.26,474.84 1127.73,477.30 1122.80,488.82 1120.33,490.46" fill="#dfd3a4" opacity="0.6"/><polygon points="937.34,581.60 941.64,577.91 945.58,584.92" fill="#909bbd" /><polygon points="965.62,571.15 971.15,574.84 969.92,578.77 965.00,583.45" fill="#909bbd" /><path d="M917.3,518.9C917.0,517.3 918.8,514.4 920.7,514.0C922.7,513.5 944.6,512.3 946.6,512.4C948.5,512.4 949.3,512.8 950.2,514.6C951.2,516.4 960.0,536.1 961.3,539.2C962.6,542.2 969.4,558.4 969.9,560.1C970.4,561.7 970.0,563.3 968.7,563.8C967.4,564.2 951.7,566.5 950.2,566.5C948.8,566.5 948.8,565.7 947.2,563.8C945.5,561.9 927.6,540.9 925.7,538.0C923.7,535.0 917.6,520.5 917.3,518.9Z" fill="#c9c9c9"/><polygon points="923.81,519.51 947.79,518.28 965.00,553.94 945.33,557.01 929.35,536.72" fill="#a4a4a4" /><polygon points="945.33,557.01 965.00,553.94 969.68,561.31 950.25,565.62" fill="#b8b8b8" /><polygon points="932.42,522.21 941.64,521.72 944.10,526.64 934.51,526.89" fill="#fff" /><path d="M932.6,522.4L938.6,525L941.5,521.9" fill="none" stroke="#bbb" stroke-width="0.5"/><line x1="930.6" y1="515.2" x2="936.7" y2="515" stroke="#999" stroke-width="0.7"/><circle cx="953.5" cy="560.5" r="1.2" fill="#9a9a9a"/><path d="M923.2,538.6C924.6,538.0 937.0,537.9 939.2,539.2C941.3,540.5 943.9,549.0 944.7,551.5C945.6,553.9 947.2,562.3 947.8,563.8C948.3,565.3 948.2,566.5 950.2,566.5C952.3,566.5 967.0,562.8 968.7,563.8C970.4,564.7 967.2,574.1 966.8,576.1C966.5,578.0 967.2,582.6 965.0,583.4C962.9,584.3 947.8,586.2 945.3,584.7C942.9,583.2 941.6,570.9 940.4,568.7C939.2,566.5 934.4,564.3 933.0,562.5C931.7,560.8 927.7,553.2 926.9,551.5C926.1,549.8 925.4,546.6 925.0,545.3C924.7,544.0 921.8,539.2 923.2,538.6Z" fill="#e8e0c1"/><path d="M953.9,542.9C954.6,541.9 959.0,540.1 961.3,540.4C963.6,540.7 969.8,543.5 971.2,545.3C972.5,547.1 972.1,551.6 971.8,553.9C971.4,556.2 969.6,562.5 968.7,562.5C967.8,562.5 966.6,555.9 965.0,553.9C963.4,552.0 957.9,549.3 956.4,547.8C954.9,546.3 953.3,543.9 953.9,542.9Z" fill="#e8e0c1"/></g><path d="M1178.9,424.9A8.2,8.2 0 1 1 1194.6,431.6L1168.8,460.9L1165.6,457.6Z" fill="#e60012"/><circle cx="1160.3" cy="470.2" r="6.9" fill="#e60012"/></g><g id="tower"><defs>
<linearGradient id="capg" x1="0" y1="0" x2="1" y2="0"><stop offset="0" stop-color="#e6e6e6"/><stop offset="0.06" stop-color="#f3f3f3"/><stop offset="0.42" stop-color="#eeeeee"/><stop offset="0.58" stop-color="#cecece"/><stop offset="0.9" stop-color="#bebebe"/><stop offset="1" stop-color="#b0b0b0"/></linearGradient>
<linearGradient id="capv" x1="0" y1="0" x2="0" y2="1"><stop offset="0" stop-color="#fff" stop-opacity="0.3"/><stop offset="0.35" stop-color="#fff" stop-opacity="0"/><stop offset="1" stop-color="#fff" stop-opacity="0.15"/></linearGradient>
<linearGradient id="hl" x1="0" y1="0" x2="1" y2="0"><stop offset="0" stop-color="#000" stop-opacity="0.1"/><stop offset="0.18" stop-color="#fff" stop-opacity="0"/><stop offset="0.42" stop-color="#fff" stop-opacity="0.2"/><stop offset="0.58" stop-color="#fff" stop-opacity="0.12"/><stop offset="0.85" stop-color="#fff" stop-opacity="0"/><stop offset="1" stop-color="#000" stop-opacity="0.12"/></linearGradient>
<linearGradient id="neckg" x1="0" y1="0" x2="1" y2="0"><stop offset="0" stop-color="#dedede"/><stop offset="0.3" stop-color="#fafafa"/><stop offset="0.7" stop-color="#f0f0f0"/><stop offset="1" stop-color="#cfcfcf"/></linearGradient>
<linearGradient id="darkp" x1="0" y1="0" x2="1" y2="0.6"><stop offset="0" stop-color="#77726f"/><stop offset="0.5" stop-color="#4d4946"/><stop offset="1" stop-color="#3b3735"/></linearGradient>
<linearGradient id="sideg" x1="0" y1="0" x2="1" y2="0"><stop offset="0" stop-color="#f4f4f4"/><stop offset="0.3" stop-color="#dedede"/><stop offset="1" stop-color="#c6c6c6"/></linearGradient>
<linearGradient id="frontg" x1="0" y1="0" x2="1" y2="0"><stop offset="0" stop-color="#e6e6e6"/><stop offset="0.12" stop-color="#f2f2f2"/><stop offset="0.85" stop-color="#f4f4f4"/><stop offset="1" stop-color="#fbfbfb"/></linearGradient>
<linearGradient id="slopeg" x1="0" y1="0" x2="0" y2="1"><stop offset="0" stop-color="#f1f1f1"/><stop offset="0.4" stop-color="#fcfcfc"/><stop offset="1" stop-color="#f6f6f6"/></linearGradient>
<clipPath id="wclip"><polygon points="770,663 953,561.6 985,616.2 781.7,685.8"/></clipPath>
</defs><polygon points="604.20,445.30 609.70,437.20 640.80,461.30" fill="#e60012" /><polygon points="597.50,477.20 597.50,490.30 640.30,482.00" fill="#e60012" /><polygon points="605.80,518.00 612.50,525.30 639.70,500.30" fill="#e60012" /><polygon points="758.70,437.20 763.70,445.30 726.70,461.30" fill="#e60012" /><polygon points="770.00,477.20 770.00,490.30 727.00,482.00" fill="#e60012" /><polygon points="761.70,517.50 755.00,525.30 728.00,500.30" fill="#e60012" /><path d="M659.7,586L655,590.5Q644,602 633.3,629L631.7,706.7L688.3,716.7L708.3,711.7L739.2,683.3L742.5,592Q742,585 731.7,578.3L713.7,575Z" fill="#ededed"/><path d="M713.7,576L731.7,578.3Q742,585 742.5,592L741.7,600L716.7,642Q710.5,650 710,660L708.3,711.7L688.3,716.7L686.7,646Q687,640 693,634L713.7,597Z" fill="url(#sideg)"/><path d="M741.7,599L717.5,641Q710.8,650 710.3,660L708.6,711.5L739.2,683.3Z" fill="url(#darkp)"/><path d="M659.7,586L655,590.5Q644,602 633.3,629L632.5,632L686.7,645Q688,640 693,634L714,597L713.7,586Z" fill="url(#slopeg)"/><path d="M632.7,631L631.7,706.7L688.3,716.7L686.7,645Z" fill="url(#frontg)"/><path d="M637.5,704.3L639.5,701.8L678,708.6L678.3,711.8Z" fill="#8d8d8d"/><path d="M639,705.3L677.5,712" stroke="#e8e8e8" stroke-width="1.2"/><path d="M650,626.7L674.5,627.6Q676.2,627.8 675.8,629.5L673.6,644Q673.2,646 671.5,645.8L644,641.9Q642.2,641.5 642.7,640L647.5,628.2Q648.2,626.6 650,626.7Z" fill="#f7f7f7" stroke="#cfcfcf" stroke-width="0.8"/><circle cx="656.7" cy="660.8" r="5" fill="#f5f5f5" stroke="#dcdcdc" stroke-width="0.8"/><path d="M646,676.3L655,677.5L655,680.2L646.5,679Z M657,677.7L668.8,679.4L669,682L657,680.4Z" fill="#f9f9f9" stroke="#d6d6d6" stroke-width="0.6"/><text x="656.5" y="653.8" font-size="2.2" fill="#cfcfcf" textLength="5.0" lengthAdjust="spacingAndGlyphs" text-anchor="middle" >TEST</text><text x="656.0" y="673.3" font-size="2.2" fill="#cfcfcf" textLength="8.0" lengthAdjust="spacingAndGlyphs" text-anchor="middle" >VOLUME</text><circle cx="653.6" cy="687.3" r="0.9" fill="#7cc3ee"/><circle cx="656.8" cy="687.6" r="0.9" fill="#7cc3ee"/><circle cx="660.0" cy="687.9" r="0.9" fill="#7cc3ee"/><text x="643.8" y="698.6" font-size="5.6" font-family="Liberation Serif,serif" font-style="italic" font-weight="bold" fill="#bdbdbd" textLength="27" lengthAdjust="spacingAndGlyphs" transform="rotate(6 643.8 698.6)">PATLITE</text><path d="M659.4,573V588Q686.5,596 713.6,588V573Z" fill="url(#neckg)"/><path d="M659.4,573V577.5Q686.5,582.5 713.6,577.5V573Z" fill="#dfe3e1"/><rect x="659.4" y="473.5" width="54.2" height="27.5" fill="#ec1f1c"/><rect x="659.4" y="473.5" width="54.2" height="3.0" fill="#c2160e" opacity="0.8"/><rect x="659.4" y="479" width="54.2" height="7.0" fill="#ff5a38" opacity="0.25"/><rect x="659.4" y="491.5" width="54.2" height="6.5" fill="#b81408" opacity="0.6"/><rect x="659.4" y="501" width="54.2" height="35.6" fill="#f2a416"/><rect x="659.4" y="501" width="54.2" height="4.5" fill="#b9733a" opacity="0.9"/><rect x="659.4" y="505.5" width="54.2" height="2.5" fill="#e88a10" opacity="0.7"/><rect x="659.4" y="513" width="54.2" height="10.0" fill="#ffd23e" opacity="0.55"/><rect x="659.4" y="526.5" width="54.2" height="4.5" fill="#d85e10" opacity="0.75"/><rect x="659.4" y="531" width="54.2" height="5.6" fill="#ef9414" opacity="0.6"/><rect x="659.4" y="536.6" width="54.2" height="36.7" fill="#17aa4a"/><rect x="659.4" y="536.6" width="54.2" height="4.9" fill="#07702e" opacity="0.9"/><rect x="659.4" y="545" width="54.2" height="11.0" fill="#58e592" opacity="0.55"/><rect x="659.4" y="556" width="54.2" height="3.5" fill="#0f8a3a" opacity="0.6"/><rect x="659.4" y="561" width="54.2" height="9.0" fill="#3fd67c" opacity="0.45"/><rect x="659.4" y="570" width="54.2" height="3.3" fill="#0c8a3c" opacity="0.5"/><rect x="659.4" y="473.5" width="54.2" height="99.8" fill="url(#hl)"/><ellipse cx="686" cy="483" rx="6" ry="1.6" fill="#fff" opacity="0.55"/><ellipse cx="686" cy="489" rx="5" ry="1.2" fill="#fff" opacity="0.45"/><ellipse cx="684" cy="519" rx="5" ry="1.8" fill="#fff" opacity="0.5"/><ellipse cx="683" cy="527" rx="4" ry="1.3" fill="#fff" opacity="0.35"/><ellipse cx="685" cy="552" rx="6" ry="2.2" fill="#fff" opacity="0.7"/><ellipse cx="684" cy="560" rx="5" ry="1.6" fill="#fff" opacity="0.55"/><line x1="662.4" y1="474" x2="662.4" y2="573" stroke="#fff" stroke-width="0.5" opacity="0.18"/><line x1="665.4" y1="474" x2="665.4" y2="573" stroke="#fff" stroke-width="0.5" opacity="0.18"/><line x1="668.4" y1="474" x2="668.4" y2="573" stroke="#fff" stroke-width="0.5" opacity="0.18"/><line x1="671.4" y1="474" x2="671.4" y2="573" stroke="#fff" stroke-width="0.5" opacity="0.18"/><line x1="674.5" y1="474" x2="674.5" y2="573" stroke="#fff" stroke-width="0.5" opacity="0.18"/><line x1="677.5" y1="474" x2="677.5" y2="573" stroke="#fff" stroke-width="0.5" opacity="0.18"/><line x1="680.5" y1="474" x2="680.5" y2="573" stroke="#fff" stroke-width="0.5" opacity="0.18"/><line x1="683.5" y1="474" x2="683.5" y2="573" stroke="#fff" stroke-width="0.5" opacity="0.18"/><line x1="686.5" y1="474" x2="686.5" y2="573" stroke="#fff" stroke-width="0.5" opacity="0.18"/><line x1="689.5" y1="474" x2="689.5" y2="573" stroke="#fff" stroke-width="0.5" opacity="0.18"/><line x1="692.5" y1="474" x2="692.5" y2="573" stroke="#fff" stroke-width="0.5" opacity="0.18"/><line x1="695.5" y1="474" x2="695.5" y2="573" stroke="#fff" stroke-width="0.5" opacity="0.18"/><line x1="698.5" y1="474" x2="698.5" y2="573" stroke="#fff" stroke-width="0.5" opacity="0.18"/><line x1="701.6" y1="474" x2="701.6" y2="573" stroke="#fff" stroke-width="0.5" opacity="0.18"/><line x1="704.6" y1="474" x2="704.6" y2="573" stroke="#fff" stroke-width="0.5" opacity="0.18"/><line x1="707.6" y1="474" x2="707.6" y2="573" stroke="#fff" stroke-width="0.5" opacity="0.18"/><line x1="710.6" y1="474" x2="710.6" y2="573" stroke="#fff" stroke-width="0.5" opacity="0.18"/><path d="M659.4,457.5Q659.4,455.3 662.4,455.1Q686.5,454 710.6,455.1Q713.6,455.3 713.6,457.5V473.5Q686.5,475 659.4,473.5Z" fill="url(#capg)"/><path d="M659.4,457.5Q659.4,455.3 662.4,455.1Q686.5,454 710.6,455.1Q713.6,455.3 713.6,457.5V473.5Q686.5,475 659.4,473.5Z" fill="url(#capv)"/><ellipse cx="686.5" cy="457.4" rx="26.8" ry="2.9" fill="#f5f6f6"/><g clip-path="url(#wclip)" fill="none" stroke="#0086d1" stroke-width="10"><path d="M769.5,656.7A24.6,24.6 0 0 1 787.5,691.3"/><path d="M789.1,644.8A28.3,28.3 0 0 1 809.9,684.6"/><path d="M808.8,632.9A32.0,32.0 0 0 1 832.3,678.0"/><path d="M828.5,621.0A35.8,35.8 0 0 1 854.7,671.4"/><path d="M848.1,609.1A39.5,39.5 0 0 1 877.1,664.7"/><path d="M867.8,597.3A43.2,43.2 0 0 1 899.5,658.1"/><path d="M887.5,585.4A46.9,46.9 0 0 1 921.8,651.4"/><path d="M907.1,573.5A50.6,50.6 0 0 1 944.2,644.8"/></g><g fill="#fff" stroke="#7d7774" stroke-width="1.7" stroke-linejoin="miter"><polygon points="799.7,598 861.3,581.7 872,624.2 811.7,640.8"/><polyline points="799.7,598 837.5,616.3 861.3,581.7" fill="none"/><path d="M811.7,640.8L818,609.2M872,624.2L850.8,600.8" fill="none"/></g></g>
</svg>
</body></html>
